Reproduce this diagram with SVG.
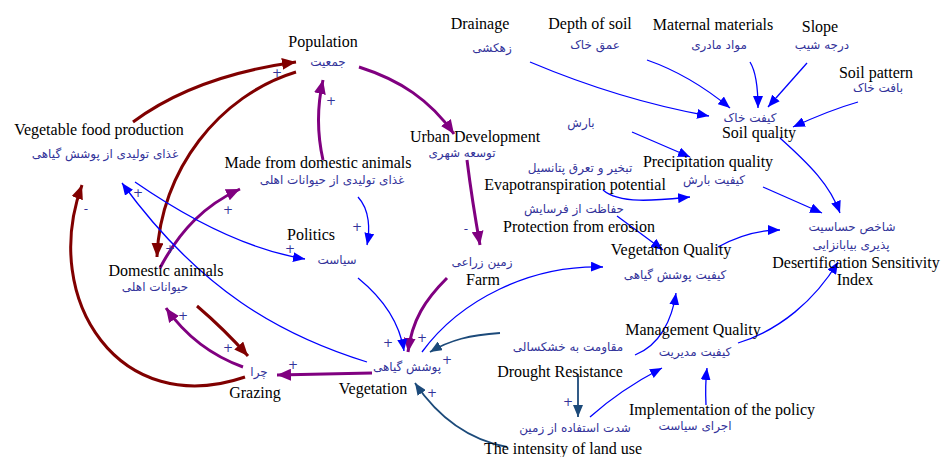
<svg xmlns="http://www.w3.org/2000/svg" width="946" height="457" viewBox="0 0 946 457">
<style>
.en{font-family:"Liberation Serif","Times New Roman",serif;font-size:16px;fill:#000;text-anchor:middle}
.fa{font-family:"DejaVu Sans","Noto Sans",sans-serif;font-size:12px;fill:#33339a;text-anchor:middle}
.pol{font-family:"DejaVu Sans",sans-serif;font-size:12px;fill:#33339a;text-anchor:middle}
.r{fill:none;stroke:#800000;stroke-width:3;marker-end:url(#mr)}
.p{fill:none;stroke:#800080;stroke-width:3;marker-end:url(#mp)}
.b{fill:none;stroke:#0000ff;stroke-width:1.3;marker-end:url(#mb)}
.d{fill:none;stroke:#1c4a7a;stroke-width:1.8;marker-end:url(#md)}
</style>
<defs>
<marker id="mr" markerUnits="userSpaceOnUse" markerWidth="16" markerHeight="12" refX="14" refY="6" orient="auto"><path d="M0,0 L14,6 L0,12 z" fill="#800000"/></marker>
<marker id="mp" markerUnits="userSpaceOnUse" markerWidth="16" markerHeight="12" refX="14" refY="6" orient="auto"><path d="M0,0 L14,6 L0,12 z" fill="#800080"/></marker>
<marker id="mb" markerUnits="userSpaceOnUse" markerWidth="14" markerHeight="10" refX="12" refY="5" orient="auto"><path d="M0,0 L12,5 L0,10 z" fill="#0000ff"/></marker>
<marker id="md" markerUnits="userSpaceOnUse" markerWidth="14" markerHeight="10" refX="12" refY="5" orient="auto"><path d="M0,0 L12,5 L0,10 z" fill="#1c4a7a"/></marker>
</defs>
<rect width="946" height="457" fill="#fff"/>
<g id="connectors">
<path class="r" d="M133,122 Q195,76 296,62"/>
<path class="r" d="M296,72 C220,95 160,170 157,257"/>
<path class="r" d="M245,377 C120,420 40,300 82,185"/>
<path class="r" d="M197,306 Q225,330 248,356"/>
<path class="p" d="M323,160 Q314,120 323,80"/>
<path class="p" d="M160,268 C180,230 205,205 240,189"/>
<path class="p" d="M359,67 C400,80 430,100 454,134"/>
<path class="p" d="M467,160 Q472,200 480,245"/>
<path class="p" d="M447,278 C425,300 412,320 408,352"/>
<path class="p" d="M372,373 L277,375"/>
<path class="p" d="M243,367 C210,355 185,335 166,308"/>
<path class="b" d="M367,362 C280,335 200,290 122,183"/>
<path class="b" d="M135,182 C190,220 250,250 305,259"/>
<path class="b" d="M358,197 C370,210 370,230 367,245"/>
<path class="b" d="M358,278 C385,300 400,325 404,351"/>
<path class="b" d="M422,352 C460,300 530,265 603,267"/>
<path class="b" d="M530,62 Q620,100 709,116"/>
<path class="b" d="M647,60 Q690,75 730,108"/>
<path class="b" d="M750,62 Q758,75 758,108"/>
<path class="b" d="M807,63 L768,107"/>
<path class="b" d="M858,102 Q830,110 793,127"/>
<path class="b" d="M632,132 L690,157"/>
<path class="b" d="M603,190 C620,205 660,200 690,197"/>
<path class="b" d="M617,216 L663,250"/>
<path class="b" d="M780,138 C810,165 830,185 840,213"/>
<path class="b" d="M763,187 L822,213"/>
<path class="b" d="M718,247 C740,235 760,230 780,230"/>
<path class="b" d="M738,343 C780,330 815,300 838,262"/>
<path class="b" d="M635,355 C660,345 672,320 676,293"/>
<path class="b" d="M590,417 Q620,390 662,368"/>
<path class="b" d="M706,405 Q705,385 707,368"/>
<path class="d" d="M500,333 C470,335 450,340 430,352"/>
<path class="d" d="M578,374 L578,417"/>
<path class="d" d="M507,447 C470,440 440,420 415,383"/>
</g>
<g id="polarity">
<text class="pol" x="277" y="77">+</text>
<text class="pol" x="331" y="105">+</text>
<text class="pol" x="138" y="197">+</text>
<text class="pol" x="228" y="214">+</text>
<text class="pol" x="170" y="253">+</text>
<text class="pol" x="357" y="231">+</text>
<text class="pol" x="290" y="253">+</text>
<text class="pol" x="183" y="320">+</text>
<text class="pol" x="228" y="352">+</text>
<text class="pol" x="293" y="369">+</text>
<text class="pol" x="388" y="347">+</text>
<text class="pol" x="422" y="342">+</text>
<text class="pol" x="447" y="364">+</text>
<text class="pol" x="432" y="397">+</text>
<text class="pol" x="568" y="406">+</text>
<text class="pol" x="86" y="213">-</text>
<text class="pol" x="466" y="233">-</text>
</g>
<g id="population"><text class="en" x="323" y="47">Population</text><text class="fa" x="328" y="66">جمعیت</text></g>
<g id="drainage"><text class="en" x="480" y="29">Drainage</text><text class="fa" x="492" y="52">زهکشی</text></g>
<g id="depth"><text class="en" x="590" y="29">Depth of soil</text><text class="fa" x="595" y="49">عمق خاک</text></g>
<g id="maternal"><text class="en" x="713" y="30">Maternal materials</text><text class="fa" x="719" y="49">مواد مادری</text></g>
<g id="slope"><text class="en" x="820" y="32">Slope</text><text class="fa" x="822" y="49">درجه شیب</text></g>
<g id="soilpattern"><text class="en" x="876" y="78">Soil pattern</text><text class="fa" x="878" y="92">بافت خاک</text></g>
<g id="soilquality"><text class="fa" x="750" y="122">کیفت خاک</text><text class="en" x="759" y="138">Soil quality</text></g>
<g id="barsh"><text class="fa" x="581" y="127">بارش</text></g>
<g id="precip"><text class="en" x="708" y="167">Precipitation quality</text><text class="fa" x="714" y="184">کیفیت بارش</text></g>
<g id="evapo"><text class="fa" x="580" y="172">تبخیر و تعرق پتانسیل</text><text class="en" x="575" y="190">Evapotranspiration potential</text></g>
<g id="protection"><text class="fa" x="574" y="213">حفاظت از فرسایش</text><text class="en" x="579" y="232">Protection from erosion</text></g>
<g id="vegquality"><text class="en" x="671" y="255">Vegetation Quality</text><text class="fa" x="675" y="279">کیفیت پوشش گیاهی</text></g>
<g id="dsi"><text class="fa" x="852" y="231">شاخص حساسیت</text><text class="fa" x="851" y="249">پذیری بیابانزایی</text><text class="en" x="856" y="268">Desertification Sensitivity</text><text class="en" x="855" y="285">Index</text></g>
<g id="urban"><text class="en" x="475" y="142">Urban Development</text><text class="fa" x="462" y="157">توسعه شهری</text></g>
<g id="farm"><text class="fa" x="482" y="266">زمین زراعی</text><text class="en" x="483" y="285">Farm</text></g>
<g id="politics"><text class="en" x="311" y="240">Politics</text><text class="fa" x="337" y="264">سیاست</text></g>
<g id="madefrom"><text class="en" x="318" y="168">Made from domestic animals</text><text class="fa" x="332" y="184">غذای تولیدی از حیوانات اهلی</text></g>
<g id="vegfood"><text class="en" x="99" y="135">Vegetable food production</text><text class="fa" x="105" y="158">غذای تولیدی از پوشش گیاهی</text></g>
<g id="domestic"><text class="en" x="166" y="276">Domestic animals</text><text class="fa" x="155" y="291">حیوانات اهلی</text></g>
<g id="grazing"><text class="fa" x="259" y="376">چرا</text><text class="en" x="255" y="398">Grazing</text></g>
<g id="vegetation"><text class="fa" x="407" y="371">پوشش گیاهی</text><text class="en" x="373" y="394">Vegetation</text></g>
<g id="drought"><text class="fa" x="568" y="351">مقاومت به خشکسالی</text><text class="en" x="560" y="377">Drought Resistance</text></g>
<g id="management"><text class="en" x="693" y="335">Management Quality</text><text class="fa" x="695" y="356">کیفیت مدیریت</text></g>
<g id="implementation"><text class="en" x="722" y="415">Implementation of the policy</text><text class="fa" x="695" y="430">اجرای سیاست</text></g>
<g id="intensity"><text class="fa" x="575" y="432">شدت استفاده از زمین</text><text class="en" x="563" y="454">The intensity of land use</text></g>
</svg>
